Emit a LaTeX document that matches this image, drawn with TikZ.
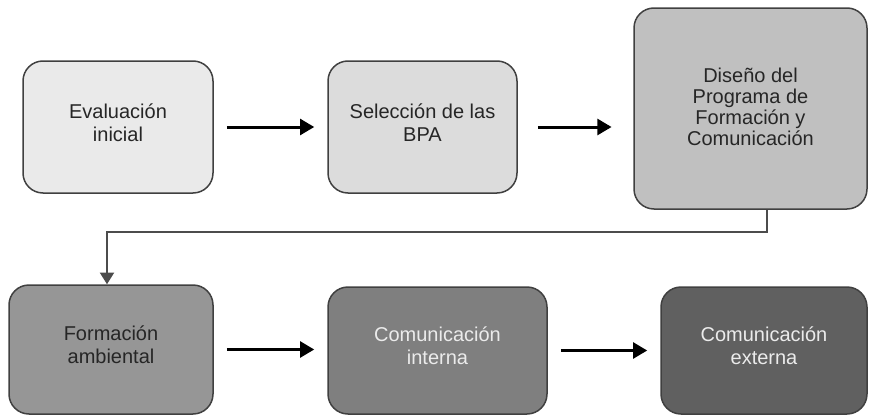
\documentclass[tikz,border=0pt]{standalone}
\usepackage{fontspec}
\setmainfont{Liberation Sans}
\usetikzlibrary{arrows.meta,positioning,calc}
\definecolor{gris1}{HTML}{EAEAEA}
\definecolor{gris2}{HTML}{DCDCDC}
\definecolor{gris3}{HTML}{C0C0C0}
\definecolor{gris4}{HTML}{969696}
\definecolor{gris5}{HTML}{7F7F7F}
\definecolor{gris6}{HTML}{606060}
\tikzset{
  box/.style={draw=black!75, line width=0.9pt, rounded corners=12pt,
  align=center, text=black!85, text depth=5.5pt,
  font=\fontsize{12}{13.6}\selectfont},
  boxclaro/.style={box, text=black!8},
  flecha/.style={-{Triangle[length=8.5pt,width=9.5pt]}, line width=1.8pt,
  shorten <=7.8pt, shorten >=7.8pt},
  enlace/.style={-{Triangle[length=7pt,width=8.5pt]}, line width=0.9pt,
  draw=black!70}
}
\begin{document}
\begin{tikzpicture}[x=0.6pt,y=-0.6pt]
\useasboundingbox (0,0) rectangle (869,416);
% fila superior
\node[box, fill=gris1, minimum width=114pt, minimum height=79.2pt]
  (eval) at (118,127) {Evaluación\\inicial};
\node[box, fill=gris2, minimum width=113.4pt, minimum height=79.2pt]
  (sel) at (422.5,127) {Selección de las\\BPA};
\node[box, fill=gris3, minimum width=139.8pt, minimum height=120.6pt,
  text depth=2pt, font=\fontsize{12}{12.6}\selectfont]
  (dis) at (750.5,108.5) {Diseño del\\Programa de\\Formación y\\Comunicación};
% fila inferior
\node[box, fill=gris4, minimum width=122.4pt, minimum height=77.4pt]
  (form) at (111,349.5) {Formación\\ambiental};
\node[boxclaro, fill=gris5, minimum width=131.4pt, minimum height=76.2pt]
  (inter) at (437.5,350.5) {Comunicación\\interna};
\node[boxclaro, fill=gris6, minimum width=123.6pt, minimum height=76.2pt]
  (ext) at (764,350.5) {Comunicación\\externa};
% conectores
\coordinate (giro) at (767,232);
\draw[flecha] (eval.east) -- (eval.east -| sel.west);
\draw[flecha, shorten <=12pt, shorten >=13pt] (sel.east) -- (sel.east -| dis.west);
\draw[enlace] (dis.south -| giro) -- (giro) -| ([xshift=-2.4pt]form.north);
\draw[flecha] (form.east) -- (form.east -| inter.west);
\draw[flecha] (inter.east) -- (inter.east -| ext.west);
\end{tikzpicture}
\end{document}
